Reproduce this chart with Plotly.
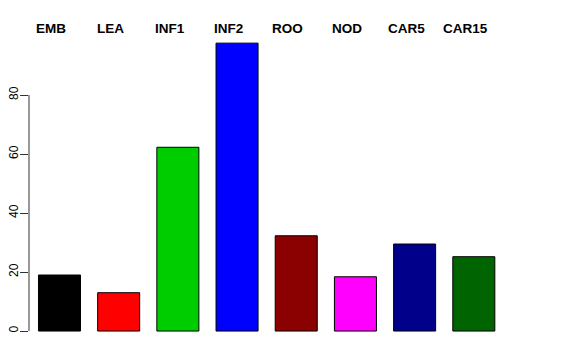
import plotly.graph_objects as go

categories = ["EMB", "LEA", "INF1", "INF2", "ROO", "NOD", "CAR5", "CAR15"]
values = [19.0, 13.0, 62.3, 97.6, 32.3, 18.4, 29.5, 25.2]
colors = ["#000000", "#FF0000", "#00CD00", "#0000FF", "#8B0000", "#FF00FF", "#00008B", "#006400"]
y_ticks = [0, 20, 40, 60, 80]

x_idx = list(range(len(categories)))

fig = go.Figure()
fig.add_trace(go.Bar(
    x=x_idx, y=values,
    marker=dict(color=colors, line=dict(color="#000000", width=1)),
    hoverinfo="skip", showlegend=False,
))

for i, c in enumerate(categories):
    fig.add_annotation(
        x=i - 0.14, xref="x", y=1.037, yref="paper",
        text="<b>%s</b>" % c, showarrow=False,
        font=dict(family="Liberation Sans, Arial, sans-serif", size=13.5, color="black"),
        xanchor="center", yanchor="middle",
    )

# R-style y axis line spanning only the tick range
fig.add_shape(type="line", xref="paper", x0=0, x1=0, yref="y",
              y0=min(y_ticks), y1=max(y_ticks), line=dict(color="#333333", width=1))

fig.update_layout(
    width=576, height=360,
    margin=dict(l=21, r=51, t=31, b=34, autoexpand=False),
    paper_bgcolor="white", plot_bgcolor="white",
    bargap=0.29,
    font=dict(family="Liberation Sans, Arial, sans-serif", size=12, color="black"),
    xaxis=dict(range=[-0.515, 8.0], showticklabels=False, showgrid=False,
               zeroline=False, showline=False, ticks="", automargin=False),
    yaxis=dict(range=[-1, 99], tickvals=y_ticks, ticktext=[str(v) for v in y_ticks],
               tickangle=-90, ticks="outside", ticklen=8, tickcolor="#333333",
               ticklabelstandoff=-3,
               showgrid=False, zeroline=False, showline=False, automargin=False,
               tickfont=dict(size=12, color="black")),
)

fig.write_html("out.html")
